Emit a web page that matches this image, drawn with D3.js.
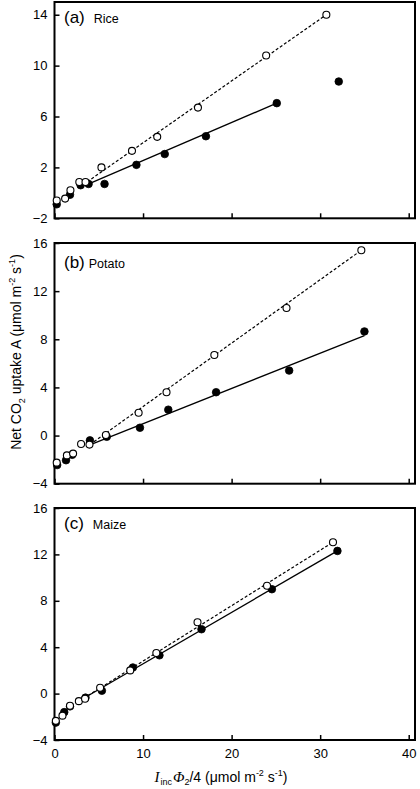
<!DOCTYPE html>
<html>
<head>
<meta charset="utf-8">
<script src="https://cdn.jsdelivr.net/npm/d3@7"></script>
<style>
  html, body { margin: 0; padding: 0; background: #fff; }
  svg { display: block; }
  text { font-family: "Liberation Sans", Arial, sans-serif; fill: #000; }
</style>
</head>
<body>
<svg id="chart" width="420" height="789"></svg>
<script>
// ---------------- DATA ----------------
const panelNames = ["(a)", "(b)", "(c)"];
const cropNames = ["Rice", "Potato", "Maize"];
const xTicks = [0, 10, 20, 30, 40];
const yTicksA = [-2, 2, 6, 10, 14];
const yTicksBC = [-4, 0, 4, 8, 12, 16];

// Rice
const riceOpen = [[0.25,-0.6],[1.2,-0.45],[1.8,0.2],[2.8,0.85],[3.5,0.85],[5.3,2.0],[8.75,3.3],[11.6,4.4],[16.2,6.7],[23.9,10.8],[30.7,14.0]];
const riceFilled = [[0.25,-0.9],[1.75,-0.15],[2.95,0.6],[3.85,0.7],[5.65,0.7],[9.25,2.2],[12.45,3.05],[17.1,4.45],[25.1,7.05],[32.1,8.75]];
const riceOpenFit = [[3.7,0.87],[30.7,14.0]];
const riceFilledFit = [[3.8,0.68],[25.1,7.05]];

// Potato
const potatoOpen = [[0.25,-2.25],[1.4,-1.65],[2.1,-1.5],[3.0,-0.7],[3.95,-0.75],[5.8,0.05],[9.5,1.9],[12.65,3.6],[18.05,6.7],[26.2,10.6],[34.65,15.4]];
const potatoFilled = [[0.3,-2.45],[1.3,-2.05],[2.0,-1.6],[4.0,-0.4],[5.9,-0.1],[9.65,0.65],[12.85,2.15],[18.25,3.6],[26.5,5.4],[35.0,8.65]];
const potatoOpenFit = [[4.0,-0.75],[34.65,15.4]];
const potatoFilledFit = [[4.0,-0.77],[35.0,8.31]];

// Maize
const maizeOpen = [[0.15,-2.35],[0.9,-1.9],[1.75,-1.05],[2.75,-0.65],[3.45,-0.45],[5.15,0.5],[8.55,2.0],[11.5,3.5],[16.15,6.15],[24.0,9.3],[31.45,13.05]];
const maizeFilled = [[0.15,-2.5],[1.1,-1.6],[1.75,-1.1],[3.5,-0.35],[5.35,0.25],[8.85,2.25],[11.85,3.3],[16.6,5.55],[24.55,9.0],[31.95,12.3]];
const maizeOpenFit = [[3.3,-0.4],[31.45,13.05]];
const maizeFilledFit = [[3.3,-0.4],[31.95,12.3]];

// ---------------- LAYOUT ----------------
const svg = d3.select("#chart");
const xLeft = 54.5, xRight = 415;
const x = d3.scaleLinear().domain([0, 40.71]).range([xLeft, xRight]);

const panels = [
  { label: panelNames[0], crop: cropNames[0], yDomain: [-2, 15], top: 2, bottom: 218.3, ticks: yTicksA,
    open: riceOpen, filled: riceFilled, openFit: riceOpenFit, filledFit: riceFilledFit, labY: 23, cropDx: 9 },
  { label: panelNames[1], crop: cropNames[1], yDomain: [-4, 16], top: 243, bottom: 483.7, ticks: yTicksBC,
    open: potatoOpen, filled: potatoFilled, openFit: potatoOpenFit, filledFit: potatoFilledFit, labY: 268, cropDx: 4 },
  { label: panelNames[2], crop: cropNames[2], yDomain: [-4, 16], top: 508, bottom: 740, ticks: yTicksBC,
    open: maizeOpen, filled: maizeFilled, openFit: maizeOpenFit, filledFit: maizeFilledFit, labY: 529, cropDx: 9 }
];

panels.forEach((p, i) => {
  const y = d3.scaleLinear().domain(p.yDomain).range([p.bottom, p.top]);
  const g = svg.append("g");

  // y axis (ticks inside)
  const yAxis = d3.axisLeft(y).tickValues(p.ticks).tickSize(-5).tickPadding(7).tickFormat(d3.format("d"));
  const ya = g.append("g").attr("transform", `translate(${xLeft},0)`).call(yAxis);
  ya.select(".domain").remove();
  ya.selectAll("line").attr("stroke-width", 1.5);
  ya.selectAll("text").style("font-size", "13px").style("font-family", "Liberation Sans, Arial, sans-serif");

  // x axis (ticks inside)
  const xAxis = d3.axisBottom(x).tickValues(xTicks).tickSize(-5).tickPadding(6);
  const xa = g.append("g").attr("transform", `translate(0,${p.bottom})`).call(xAxis);
  xa.select(".domain").remove();
  xa.selectAll("line").attr("stroke-width", 1.5);
  if (i < 2) xa.selectAll("text").remove();
  else xa.selectAll("text").style("font-size", "13px").attr("dy", "0.9em");

  // frame
  g.append("rect").attr("x", xLeft).attr("y", p.top)
    .attr("width", xRight - xLeft).attr("height", p.bottom - p.top)
    .attr("fill", "none").attr("stroke", "#000").attr("stroke-width", 2);

  const line = d3.line().x(d => x(d[0])).y(d => y(d[1]));
  g.append("path").datum(p.filledFit).attr("d", line)
    .attr("fill", "none").attr("stroke", "#000").attr("stroke-width", 1.3);
  g.append("path").datum(p.openFit).attr("d", line)
    .attr("fill", "none").attr("stroke", "#000").attr("stroke-width", 1.2).attr("stroke-dasharray", "3,2");

  g.selectAll(".f").data(p.filled).enter().append("circle")
    .attr("cx", d => x(d[0])).attr("cy", d => y(d[1])).attr("r", 3.8)
    .attr("fill", "#000").attr("stroke", "#000").attr("stroke-width", 0.8);
  g.selectAll(".o").data(p.open).enter().append("circle")
    .attr("cx", d => x(d[0])).attr("cy", d => y(d[1])).attr("r", 3.5)
    .attr("fill", "#fff").attr("stroke", "#000").attr("stroke-width", 1.1);

  const t = g.append("text").attr("x", 64).attr("y", p.labY);
  t.append("tspan").text(p.label).style("font-size", "17px");
  t.append("tspan").attr("dx", p.cropDx).text(p.crop).style("font-size", "12.5px");
});

// y-axis title
const yt = svg.append("text")
  .attr("transform", "translate(21,352) rotate(-90)")
  .attr("text-anchor", "middle").style("font-size", "14px");
yt.append("tspan").text("Net CO");
yt.append("tspan").text("2").style("font-size", "9px").attr("dy", 4);
yt.append("tspan").text(" uptake A  (μmol m").attr("dy", -4);
yt.append("tspan").text("-2").style("font-size", "9px").attr("dy", -6);
yt.append("tspan").text(" s").attr("dy", 6);
yt.append("tspan").text("-1").style("font-size", "9px").attr("dy", -6);
yt.append("tspan").text(")").attr("dy", 6);

// x-axis title
const xt = svg.append("text").attr("x", 221).attr("y", 782)
  .attr("text-anchor", "middle").style("font-size", "14px");
xt.append("tspan").text("I").style("font-family", "Liberation Serif, Times New Roman, serif").style("font-style", "italic").style("font-size", "15px");
xt.append("tspan").text("inc").style("font-size", "9px").attr("dy", 3).attr("dx", 1);
xt.append("tspan").text("Φ").style("font-family", "Liberation Serif, Times New Roman, serif").style("font-style", "italic").style("font-size", "15px").attr("dy", -3).attr("dx", 1);
xt.append("tspan").text("2").style("font-size", "9px").attr("dy", 3);
xt.append("tspan").text("/4 (μmol m").attr("dy", -3);
xt.append("tspan").text("-2").style("font-size", "9px").attr("dy", -6);
xt.append("tspan").text(" s").attr("dy", 6);
xt.append("tspan").text("-1").style("font-size", "9px").attr("dy", -6);
xt.append("tspan").text(")").attr("dy", 6);
</script>
</body>
</html>
